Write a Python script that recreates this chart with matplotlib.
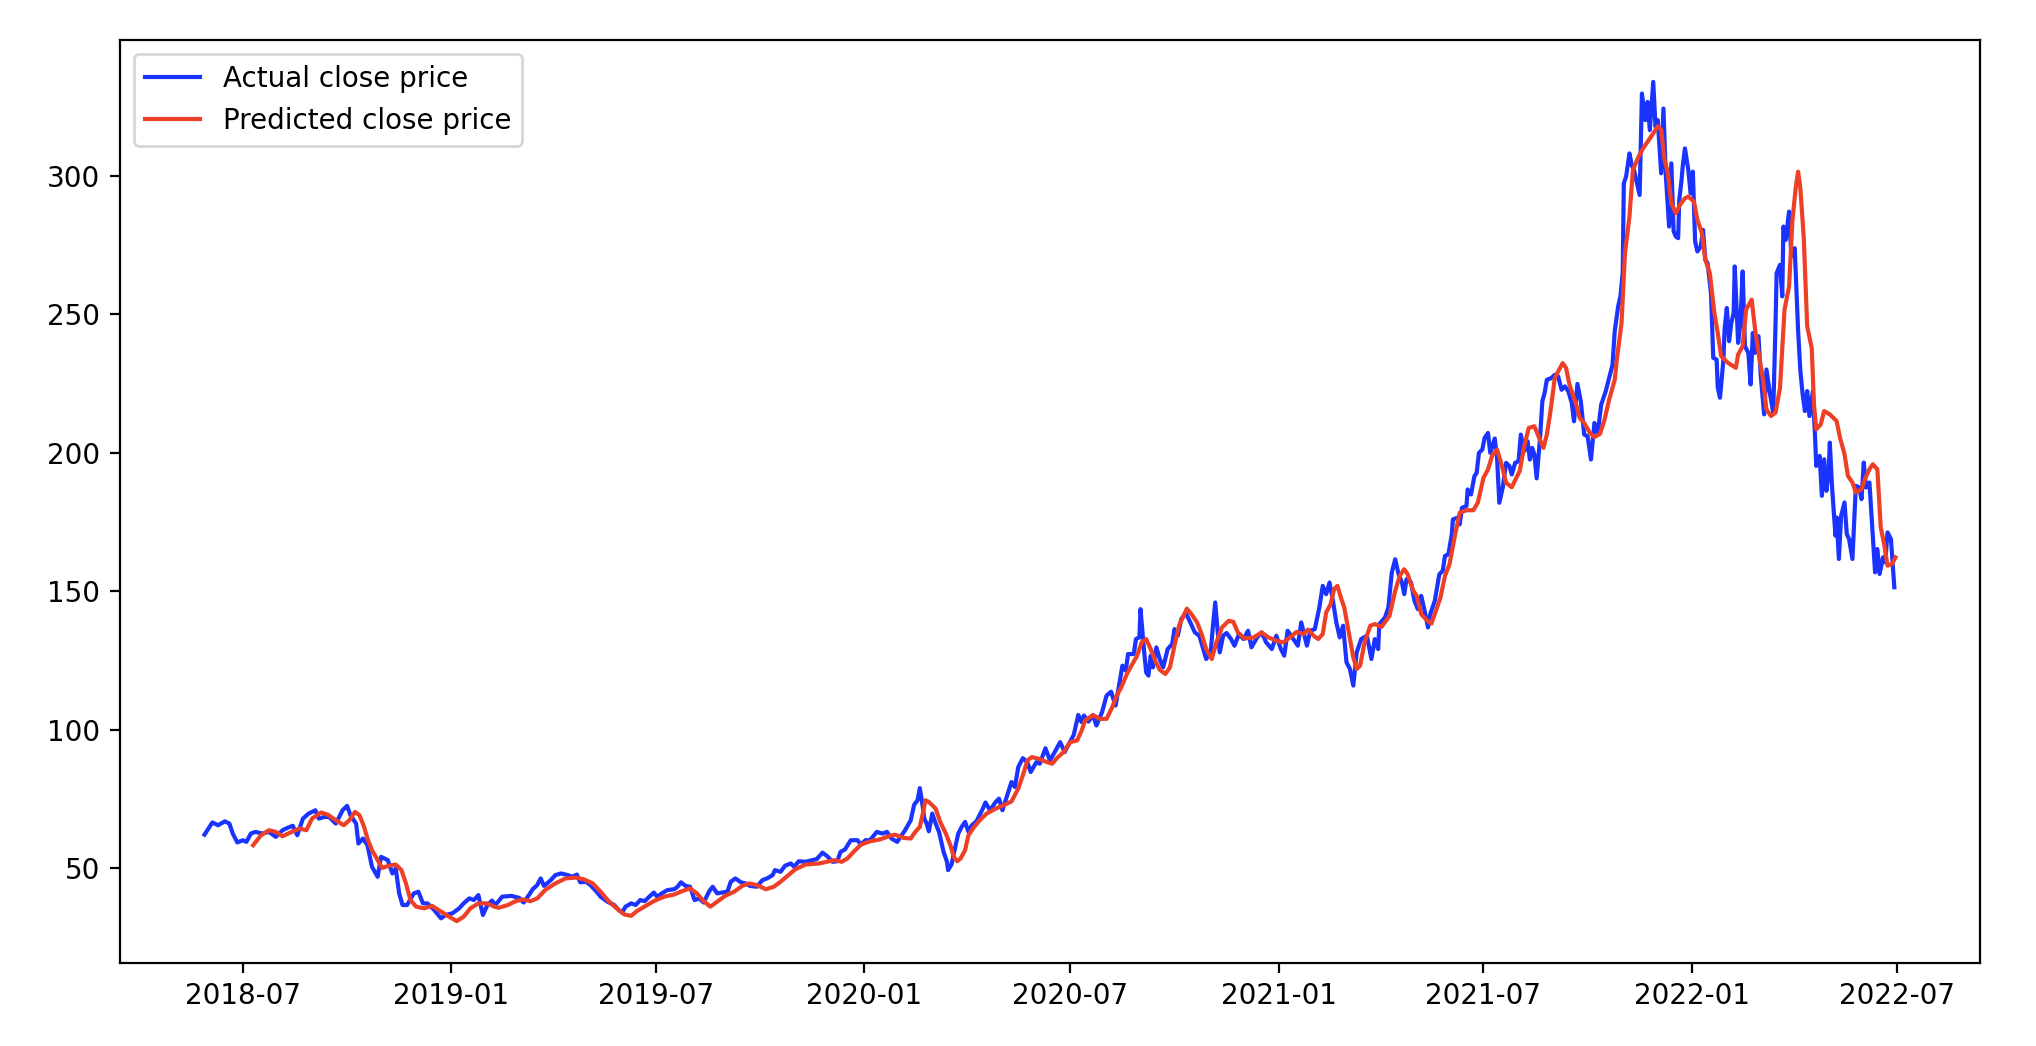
import matplotlib
matplotlib.use("Agg")
import matplotlib.pyplot as plt
import pandas as pd

start_date = "2018-07-01"

actual_days = [
    -34, -27, -22, -16, -12, -9, -5, 0, 3, 7, 11, 17, 23, 29, 35, 39, 44, 48, 53, 58,
    64, 67, 72, 76, 82, 88, 92, 95, 100, 102, 106, 110, 114, 119, 122, 128, 132, 135, 138, 141,
    145, 151, 155, 159, 163, 169, 175, 179, 185, 191, 195, 200, 204, 208, 212, 216, 220, 223, 229, 237,
    244, 248, 253, 256, 260, 263, 266, 272, 276, 281, 287, 291, 295, 298, 303, 307, 312, 316, 322, 328,
    332, 335, 338, 343, 347, 351, 355, 359, 363, 366, 370, 375, 381, 384, 387, 391, 395, 399, 403, 407,
    412, 415, 419, 423, 428, 431, 435, 440, 444, 448, 454, 459, 463, 468, 470, 475, 479, 484, 487, 491,
    497, 503, 507, 512, 516, 521, 525, 528, 532, 537, 543, 546, 550, 554, 560, 565, 569, 573, 578, 581,
    585, 590, 593, 596, 598, 600, 602, 604, 606, 609, 612, 615, 619, 622, 623, 626, 629, 632, 635, 638,
    641, 644, 648, 653, 656, 660, 665, 668, 671, 675, 679, 682, 685, 689, 693, 696, 701, 704, 709, 713,
    718, 722, 726, 729, 734, 738, 741, 743, 747, 751, 754, 759, 763, 767, 769, 771, 774, 777, 780, 782,
    787, 789, 792, 793, 796, 798, 800, 802, 804, 807, 810, 813, 817, 821, 823, 826, 829, 833, 837, 841,
    845, 848, 851, 855, 857, 859, 861, 863, 866, 869, 873, 876, 880, 884, 888, 891, 896, 900, 904, 909,
    913, 917, 920, 923, 928, 932, 935, 940, 943, 947, 951, 954, 957, 960, 963, 966, 969, 972, 975, 978,
    981, 984, 988, 993, 997, 1000, 1003, 1004, 1009, 1012, 1015, 1018, 1021, 1024, 1026, 1028, 1032, 1035, 1038, 1041,
    1044, 1047, 1049, 1053, 1057, 1060, 1062, 1065, 1068, 1069, 1073, 1075, 1077, 1081, 1082, 1085, 1088, 1090, 1092, 1095,
    1097, 1100, 1102, 1106, 1108, 1110, 1113, 1116, 1119, 1121, 1124, 1127, 1129, 1132, 1135, 1137, 1139, 1141, 1143, 1146,
    1148, 1150, 1152, 1156, 1159, 1162, 1165, 1168, 1171, 1174, 1176, 1179, 1182, 1185, 1188, 1191, 1194, 1197, 1200, 1204,
    1207, 1210, 1212, 1215, 1217, 1219, 1220, 1222, 1225, 1227, 1229, 1231, 1234, 1236, 1239, 1241, 1243, 1246, 1248, 1250,
    1253, 1255, 1257, 1260, 1262, 1264, 1266, 1268, 1269, 1271, 1272, 1274, 1277, 1279, 1281, 1283, 1285, 1288, 1290, 1292,
    1294, 1297, 1299, 1302, 1303, 1305, 1308, 1309, 1311, 1313, 1315, 1317, 1318, 1321, 1323, 1325, 1327, 1330, 1332, 1334,
    1336, 1339, 1341, 1344, 1346, 1349, 1352, 1354, 1355, 1358, 1360, 1361, 1363, 1366, 1368, 1371, 1374, 1376, 1378, 1380,
    1382, 1384, 1387, 1389, 1390, 1393, 1395, 1397, 1399, 1401, 1402, 1404, 1407, 1408, 1410, 1412, 1415, 1417, 1419, 1422,
    1425, 1428, 1430, 1432, 1434, 1437, 1440, 1442, 1444, 1446, 1449, 1451, 1453, 1456, 1459,
]
actual_close = [
    62.2, 66.6, 65.6, 67.0, 66.2, 62.6, 59.4, 60.2, 59.6, 62.6, 63.2, 62.6, 63.2, 61.4, 63.8, 64.6, 65.4, 62.0, 68.0, 69.8,
    71.0, 68.0, 68.6, 68.6, 66.2, 71.0, 72.6, 69.2, 66.2, 59.0, 60.8, 58.4, 50.6, 47.0, 54.2, 53.0, 48.2, 50.0, 41.0, 36.8,
    36.8, 41.0, 41.6, 37.4, 37.4, 35.0, 32.0, 33.2, 33.8, 35.6, 37.4, 39.2, 38.6, 40.4, 33.2, 36.8, 38.4, 36.8, 39.8, 40.1,
    39.4, 37.7, 40.6, 42.5, 44.0, 46.4, 43.7, 45.8, 47.6, 48.2, 47.6, 47.0, 47.8, 45.0, 45.2, 44.0, 41.8, 39.8, 38.0, 36.8,
    35.0, 34.1, 36.2, 37.4, 36.8, 38.6, 38.2, 39.8, 41.3, 39.8, 41.0, 42.2, 42.5, 43.4, 45.0, 43.7, 43.4, 38.6, 39.2, 37.7,
    41.8, 43.4, 41.0, 41.3, 41.6, 45.2, 46.4, 45.0, 44.6, 43.7, 43.4, 45.8, 46.4, 47.6, 49.4, 48.8, 51.0, 51.8, 50.6, 52.6,
    52.4, 53.0, 53.4, 55.7, 54.5, 52.4, 52.6, 56.0, 56.9, 60.2, 60.2, 58.6, 60.2, 60.2, 63.2, 62.6, 63.2, 60.8, 59.6, 61.4,
    63.8, 67.4, 73.0, 74.6, 79.0, 74.0, 68.0, 66.2, 63.4, 69.8, 66.2, 63.2, 56.0, 52.4, 49.4, 51.4, 57.2, 62.6, 65.0, 66.8,
    63.2, 65.6, 67.0, 71.0, 73.8, 71.0, 74.0, 75.2, 71.0, 76.1, 81.2, 79.4, 86.6, 89.8, 88.4, 84.8, 88.4, 87.8, 93.4, 89.0,
    92.6, 95.6, 92.0, 94.4, 98.2, 105.4, 102.8, 105.2, 103.0, 105.4, 101.6, 106.4, 112.4, 113.8, 111.2, 108.8, 116.0, 123.2, 121.4, 127.4,
    127.4, 132.8, 133.4, 143.6, 129.2, 120.8, 119.6, 126.8, 122.6, 129.8, 125.6, 122.6, 129.2, 131.0, 136.4, 134.0, 140.0, 142.2, 138.8, 135.2,
    134.0, 129.8, 125.6, 128.0, 137.6, 146.0, 136.4, 128.0, 134.0, 135.0, 132.8, 130.4, 134.6, 132.8, 135.8, 129.8, 133.4, 135.2, 131.6, 129.2,
    134.0, 129.2, 126.8, 135.8, 132.8, 130.4, 138.8, 130.4, 135.8, 136.4, 144.2, 152.0, 149.0, 153.2, 146.6, 138.8, 133.4, 137.6, 124.4, 122.0,
    116.0, 128.0, 132.8, 134.0, 125.6, 132.8, 129.2, 138.2, 140.6, 144.2, 156.8, 161.6, 156.2, 153.2, 149.0, 154.4, 153.2, 146.6, 143.6, 148.4,
    143.0, 137.0, 141.8, 146.6, 156.2, 157.4, 162.8, 163.4, 170.6, 176.0, 176.6, 174.2, 180.2, 180.8, 186.8, 185.0, 191.6, 192.8, 200.0, 201.2,
    205.4, 207.2, 200.0, 205.2, 198.2, 182.0, 187.4, 196.4, 195.2, 192.2, 196.4, 197.0, 206.6, 200.6, 204.2, 197.6, 201.8, 199.4, 190.8, 205.4,
    218.6, 221.6, 226.4, 227.0, 228.2, 227.6, 222.8, 224.0, 222.2, 218.0, 211.4, 224.9, 218.6, 206.6, 206.0, 197.6, 210.8, 207.2, 217.4, 222.2,
    227.0, 231.8, 244.0, 252.9, 256.5, 264.9, 297.3, 299.7, 308.1, 303.9, 302.1, 298.5, 293.1, 329.7, 320.1, 326.7, 316.5, 333.9, 317.7, 320.1,
    300.9, 324.3, 300.9, 281.7, 304.5, 280.0, 278.1, 277.5, 291.3, 298.5, 303.3, 309.9, 302.1, 293.7, 301.5, 276.3, 272.7, 274.5, 280.5, 269.7,
    268.5, 257.7, 234.3, 233.7, 223.5, 219.9, 233.7, 244.5, 252.3, 240.3, 246.9, 250.5, 267.3, 239.7, 246.9, 265.5, 238.5, 236.1, 224.7, 243.3,
    236.1, 242.1, 227.7, 213.9, 230.1, 221.7, 214.5, 245.7, 264.9, 267.9, 256.5, 281.7, 276.9, 287.1, 270.9, 273.9, 244.0, 229.5, 221.1, 215.1,
    222.3, 213.3, 222.3, 205.5, 195.3, 198.9, 184.5, 197.7, 186.3, 193.5, 203.7, 187.5, 170.1, 176.7, 161.7, 177.3, 182.1, 170.7, 168.9, 161.7,
    188.1, 187.5, 183.3, 196.5, 187.5, 189.3, 169.5, 156.9, 165.3, 156.3, 162.3, 160.5, 171.3, 168.9, 151.5,
]

pred_days = [
    9, 16, 23, 29, 35, 42, 50, 56, 61, 69, 75, 82, 89, 94, 99, 103, 107, 110, 114, 119,
    123, 129, 135, 140, 144, 148, 153, 160, 167, 175, 182, 189, 195, 201, 208, 216, 222, 226, 234, 241,
    247, 254, 260, 267, 276, 285, 294, 301, 309, 316, 323, 331, 337, 343, 348, 356, 363, 372, 381, 388,
    395, 401, 407, 413, 419, 426, 434, 441, 447, 454, 462, 469, 475, 481, 488, 497, 509, 518, 523, 529,
    534, 540, 546, 554, 563, 571, 576, 584, 590, 594, 598, 601, 603, 606, 612, 616, 621, 625, 628, 631,
    634, 638, 641, 646, 651, 657, 665, 672, 679, 685, 690, 693, 697, 703, 709, 715, 719, 725, 731, 737,
    741, 744, 751, 757, 763, 768, 772, 776, 781, 785, 790, 794, 798, 802, 806, 810, 815, 819, 823, 827,
    831, 834, 838, 843, 847, 851, 856, 860, 865, 871, 875, 879, 885, 893, 900, 906, 913, 919, 925, 931,
    937, 941, 946, 950, 954, 957, 961, 964, 967, 970, 973, 977, 981, 984, 987, 991, 996, 1000, 1006, 1013,
    1018, 1022, 1026, 1029, 1034, 1037, 1041, 1046, 1050, 1054, 1058, 1062, 1066, 1071, 1075, 1081, 1087, 1091, 1096, 1100,
    1104, 1108, 1112, 1116, 1121, 1125, 1128, 1132, 1136, 1141, 1144, 1149, 1152, 1155, 1159, 1162, 1166, 1169, 1172, 1175,
    1178, 1181, 1185, 1190, 1194, 1199, 1203, 1207, 1212, 1214, 1218, 1221, 1225, 1228, 1233, 1237, 1242, 1246, 1250, 1253,
    1256, 1259, 1262, 1266, 1270, 1274, 1277, 1282, 1285, 1289, 1292, 1296, 1300, 1303, 1306, 1312, 1319, 1321, 1325, 1328,
    1333, 1336, 1340, 1343, 1346, 1350, 1354, 1358, 1362, 1366, 1369, 1372, 1374, 1376, 1379, 1382, 1386, 1388, 1390, 1394,
    1397, 1402, 1408, 1411, 1415, 1418, 1422, 1425, 1430, 1433, 1437, 1440, 1444, 1447, 1450, 1453, 1457, 1460,
]
pred_close = [
    58.4, 62.0, 63.8, 63.2, 61.6, 63.0, 64.4, 63.8, 68.0, 70.2, 69.4, 67.4, 65.6, 67.4, 70.4, 69.2, 65.0, 60.8, 56.6, 53.0,
    50.2, 51.0, 51.4, 49.4, 44.6, 38.6, 36.2, 35.6, 36.5, 34.4, 32.6, 31.0, 32.6, 35.6, 37.4, 37.4, 36.2, 35.8, 36.8, 38.2,
    38.8, 38.2, 39.2, 42.2, 44.6, 46.4, 46.7, 46.1, 44.6, 41.6, 38.2, 35.3, 33.4, 32.9, 34.6, 36.5, 38.2, 39.8, 40.6, 41.8,
    42.8, 41.0, 38.2, 36.2, 38.0, 40.1, 41.6, 43.7, 44.6, 44.0, 42.5, 43.4, 45.2, 47.3, 49.7, 51.4, 51.8, 52.6, 53.0, 52.4,
    53.6, 56.2, 58.6, 59.8, 60.5, 61.7, 62.2, 61.0, 60.8, 63.2, 65.0, 70.4, 74.6, 74.0, 71.6, 66.8, 62.6, 58.4, 54.2, 52.6,
    53.6, 56.6, 62.0, 65.0, 67.4, 69.8, 71.6, 72.8, 74.2, 78.8, 84.8, 89.0, 90.2, 89.6, 88.6, 87.8, 89.8, 92.0, 95.6, 96.2,
    99.8, 103.4, 105.4, 104.0, 104.0, 108.2, 112.4, 115.4, 120.2, 123.2, 126.8, 131.6, 132.8, 129.2, 125.0, 121.7, 120.2, 122.6, 130.4, 137.6,
    141.2, 143.8, 141.8, 138.8, 134.6, 129.2, 125.6, 131.6, 137.0, 139.4, 139.0, 135.2, 133.0, 133.4, 135.2, 133.4, 132.2, 131.6, 133.4, 135.4,
    134.6, 136.2, 134.0, 132.8, 134.6, 142.4, 145.4, 150.8, 152.0, 147.8, 144.2, 135.2, 126.2, 122.0, 123.2, 131.6, 137.6, 138.2, 137.2, 141.2,
    150.2, 155.6, 158.0, 156.2, 150.2, 148.4, 141.8, 139.6, 138.4, 143.0, 147.8, 155.6, 159.8, 170.6, 178.4, 179.3, 179.3, 182.0, 191.0, 194.0,
    199.4, 201.2, 195.8, 189.2, 187.6, 191.0, 193.4, 202.4, 209.0, 209.6, 206.6, 201.8, 206.6, 214.4, 227.0, 229.4, 232.4, 230.6, 224.6, 221.0,
    217.4, 212.6, 210.8, 207.2, 205.7, 206.9, 212.0, 219.2, 226.4, 234.3, 246.9, 272.1, 285.3, 302.1, 306.9, 309.9, 312.9, 315.3, 317.9, 316.7,
    305.7, 300.9, 290.0, 286.5, 289.8, 291.9, 292.5, 290.7, 284.1, 279.3, 269.7, 264.9, 250.5, 243.3, 234.9, 232.5, 230.7, 235.5, 238.5, 251.7,
    255.3, 244.5, 233.7, 226.5, 215.7, 213.3, 214.5, 223.5, 251.7, 260.1, 284.1, 296.1, 301.5, 295.5, 277.5, 245.7, 237.9, 217.5, 208.5, 210.3,
    215.1, 213.9, 211.5, 205.5, 199.5, 191.7, 189.3, 185.7, 186.9, 190.5, 194.1, 195.9, 194.1, 173.1, 167.1, 159.3, 159.9, 162.3,
]

series_labels = ["Actual close price", "Predicted close price"]

base = pd.Timestamp(start_date)
actual_dates = base + pd.to_timedelta(actual_days, unit="D")
pred_dates = base + pd.to_timedelta(pred_days, unit="D")

fig, ax = plt.subplots(figsize=(10.18, 5.23), dpi=200)
fig.subplots_adjust(left=0.0589, right=0.9725, top=0.9618, bottom=0.0793)
ax.plot(actual_dates, actual_close, color="#1a33ff", linewidth=1.5, label=series_labels[0])
ax.plot(pred_dates, pred_close, color="#ee3f27", linewidth=1.5, label=series_labels[1])
ax.legend(loc="upper left")

fig.savefig("out.png", dpi=200)
